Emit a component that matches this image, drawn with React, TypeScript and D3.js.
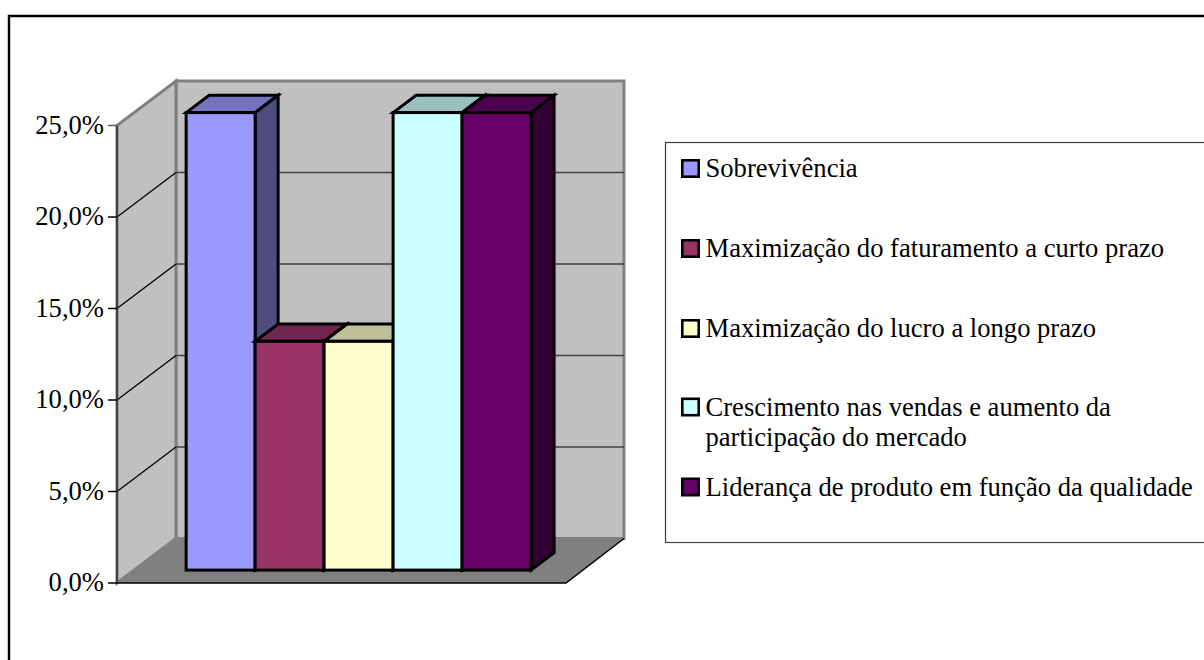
import React from "react";
import * as d3 from "d3";

const categories = [
  "Sobrevivência",
  "Maximização do faturamento a curto prazo",
  "Maximização do lucro a longo prazo",
  "Crescimento nas vendas e aumento da participação do mercado",
  "Liderança de produto em função da qualidade",
];
const values = [25, 12.5, 12.5, 25, 25];
const frontColors = ["#9999ff", "#993366", "#ffffcc", "#ccffff", "#660066"];
const topColors = ["#7373bf", "#73264d", "#bfbf99", "#99bfbf", "#4d004d"];
const sideColors = ["#4d4d80", "#4d1a33", "#808066", "#668080", "#330033"];
const tickValues = [0, 5, 10, 15, 20, 25];
const tickLabels = ["0,0%", "5,0%", "10,0%", "15,0%", "20,0%", "25,0%"];
const legendLines = [
  ["Sobrevivência"],
  ["Maximização do faturamento a curto prazo"],
  ["Maximização do lucro a longo prazo"],
  ["Crescimento nas vendas e aumento da", "participação do mercado"],
  ["Liderança de produto em função da qualidade"],
];
const legendBaselines = [177, 257, 337, 415.5, 495.5];

const FONT = "'Liberation Serif', serif";
const FS = 26.6;
const frontLeft = 117;
const frontRight = 566;
const depthX = 59;
const depthY = -44.5;
const barNear = 0.29;
const barFar = 0.68;

const y = d3.scaleLinear().domain([0, 25]).range([583, 125.5]);
const x = d3.scaleBand<string>().domain(categories).range([frontLeft, frontRight]).paddingInner(0).paddingOuter(0.754);

const poly = (pts: [number, number][]) => (d3.line()(pts) ?? "") + "Z";

export default function App() {
  const y0 = y(0);
  const yT = y(25);
  const bw = x.bandwidth();
  const nx = depthX * barNear, ny = depthY * barNear;
  const fx = depthX * barFar, fy = depthY * barFar;
  return (
    <svg width={1204} height={660} style={{ position: "absolute", left: 0, top: 0, background: "#fff" }}>
      <path d="M9,662V16H1206" fill="none" stroke="#000" strokeWidth={2.4} />
      {/* back wall */}
      <rect x={frontLeft + depthX} y={yT + depthY} width={frontRight - frontLeft - 1} height={y0 - yT} fill="#c0c0c0" stroke="#808080" strokeWidth={3} />
      {/* left wall */}
      <path d={poly([[frontLeft, y0], [frontLeft, yT], [frontLeft + depthX, yT + depthY], [frontLeft + depthX, y0 + depthY]])} fill="#c0c0c0" stroke="#808080" strokeWidth={3} />
      {/* floor */}
      <path d={poly([[frontLeft, y0], [frontLeft + depthX, y0 + depthY], [frontRight + depthX - 1, y0 + depthY], [frontRight, y0]])} fill="#808080" />
      <path d={d3.line()([[frontLeft, y0], [frontRight, y0], [frontRight + depthX - 1, y0 + depthY]]) ?? ""} fill="none" stroke="#000" strokeWidth={1.5} />
      {/* grid */}
      {tickValues.map((t) => t > 0 && t < 25 ? (
        <g key={t}>
          <line x1={frontLeft} y1={y(t)} x2={frontLeft + depthX} y2={y(t) + depthY} stroke="#000" strokeWidth={1.3} />
          <line x1={frontLeft + depthX} y1={y(t) + depthY} x2={frontRight + depthX - 1} y2={y(t) + depthY} stroke="#404040" strokeWidth={1.3} />
        </g>
      ) : null)}
      {/* value axis */}
      <line x1={frontLeft} y1={y0} x2={frontLeft} y2={yT} stroke="#404040" strokeWidth={2} />
      {tickValues.map((t, i) => (
        <g key={t}>
          <line x1={frontLeft - 9} y1={y(t)} x2={frontLeft} y2={y(t)} stroke={t === 25 ? "#606060" : "#000"} strokeWidth={1.5} />
          <text x={104} y={y(t) + 8} textAnchor="end" fontFamily={FONT} fontSize={FS} fill="#000">{tickLabels[i]}</text>
        </g>
      ))}
      {/* bars */}
      {categories.map((c, i) => {
        const l = x(c)! + nx;
        const r = l + bw;
        const b = y0 + ny;
        const t = y(values[i]) + ny;
        const dx = fx - nx, dy = fy - ny;
        return (
          <g key={c} stroke="#000" strokeWidth={3} strokeLinejoin="miter">
            <path d={poly([[l, t], [l + dx, t + dy], [r + dx, t + dy], [r, t]])} fill={topColors[i]} />
            <path d={poly([[r, t], [r + dx, t + dy], [r + dx, b + dy], [r, b]])} fill={sideColors[i]} />
            <rect x={l} y={t} width={bw} height={b - t} fill={frontColors[i]} />
          </g>
        );
      })}
      {/* legend */}
      <rect x={665.5} y={142.5} width={560} height={400} fill="#fff" stroke="#404040" strokeWidth={1.2} />
      {categories.map((c, i) => (
        <g key={c}>
          <rect x={682.3} y={legendBaselines[i] - 16.7} width={16.4} height={16.4} fill={frontColors[i]} stroke="#000" strokeWidth={2.6} />
          <text x={705.5} y={legendBaselines[i]} fontFamily={FONT} fontSize={FS} fill="#000">
            {legendLines[i].map((ln, j) => (
              <tspan key={j} x={705.5} dy={j === 0 ? 0 : 30}>{ln}</tspan>
            ))}
          </text>
        </g>
      ))}
    </svg>
  );
}
